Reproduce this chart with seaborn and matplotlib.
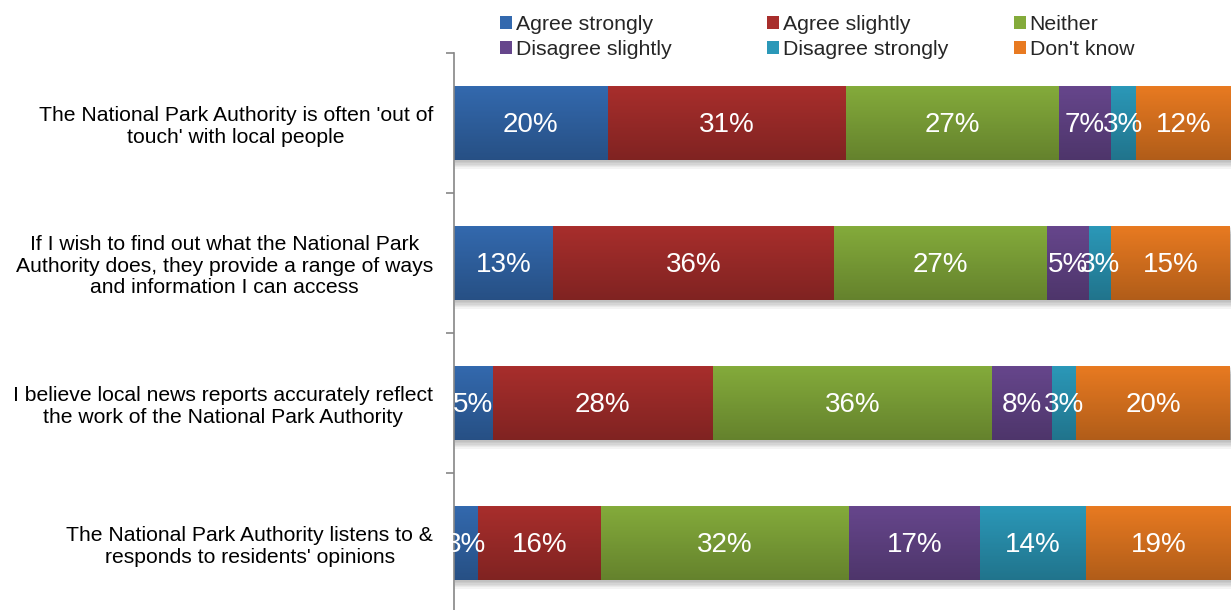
import numpy as np
import pandas as pd
import matplotlib
matplotlib.use("Agg")
import matplotlib.pyplot as plt
import seaborn as sns
from matplotlib.patches import Patch
from matplotlib.ticker import FixedLocator
import matplotlib.patheffects as pe
import matplotlib.transforms as mtransforms

categories = [
    "The National Park Authority is often 'out of\ntouch' with local people",
    "If I wish to find out what the National Park\nAuthority does, they provide a range of ways\nand information I can access",
    "I believe local news reports accurately reflect\nthe work of the National Park Authority",
    "The National Park Authority listens to &\nresponds to residents' opinions",
]
series_names = ["Agree strongly", "Agree slightly", "Neither",
                "Disagree slightly", "Disagree strongly", "Don't know"]
agree_strongly = [19.8, 12.7, 5.0, 3.1]
agree_slightly = [30.6, 36.2, 28.3, 15.8]
neither = [27.4, 27.4, 35.9, 31.9]
disagree_slightly = [6.7, 5.4, 7.7, 16.9]
disagree_strongly = [3.3, 2.8, 3.2, 13.6]
dont_know = [12.2, 15.4, 19.8, 18.7]
series_values = [agree_strongly, agree_slightly, neither,
                 disagree_slightly, disagree_strongly, dont_know]
colors = ["#3369AE", "#A82E2C", "#84AB3B", "#66468C", "#2B98B8", "#E87A21"]

sns.set_style("white")
plt.rcParams["font.family"] = ["Liberation Sans", "DejaVu Sans"]

W, H = 1231, 610
fig = plt.figure(figsize=(W / 100, H / 100), dpi=100)
ax = fig.add_axes([454 / W, -3 / H, 777 / W, 560 / H])

vals = np.array(series_values)
cum = np.cumsum(vals, axis=0)
df = pd.DataFrame({"category": categories})

# draw layers from the widest cumulative to the narrowest
first_layer = None
for i in range(len(series_names) - 1, -1, -1):
    df["value"] = cum[i]
    n_before = len(ax.patches)
    sns.barplot(data=df, y="category", x="value", orient="h", color=colors[i],
                saturation=1, width=0.535, ax=ax, errorbar=None, linewidth=0)
    if first_layer is None:
        first_layer = ax.patches[n_before:]

# soft shadow under the full bars
shadow = [pe.SimplePatchShadow(offset=(0.5, -k), alpha=0.045, shadow_rgbFace="black")
          for k in range(1, 7)]
for p in first_layer:
    p.set_path_effects(shadow + [pe.Normal()])

# vertical shading overlay on each bar
grad = np.linspace(0, 1, 64).reshape(-1, 1)
rgba = np.zeros((64, 1, 4))
rgba[..., 3] = grad * 0.24
for p in first_layer:
    bb = p.get_bbox()
    ax.imshow(rgba, extent=(bb.x0, bb.x1, bb.y1, bb.y0), aspect="auto",
              interpolation="bilinear", zorder=p.get_zorder() + 0.5)

# value labels
lab_tr = ax.transData + mtransforms.ScaledTranslation(0, -2 / 100, fig.dpi_scale_trans)
for j in range(len(categories)):
    for i in range(len(series_names)):
        left = cum[i][j] - vals[i][j]
        ax.text(left + vals[i][j] / 2, j, f"{vals[i][j]:.0f}%", ha="center", va="center",
                color="white", fontsize=20, zorder=10, transform=lab_tr)

ax.set_xlim(0, 100)
ax.set_ylim(3.5, -0.5)
ax.set_xlabel("")
ax.set_ylabel("")
ax.set_xticks([])
for s in ["top", "right", "bottom"]:
    ax.spines[s].set_visible(False)
ax.spines["left"].set_color("#868686")
ax.spines["left"].set_linewidth(1.2)
ax.tick_params(axis="y", which="major", length=0, pad=15, labelsize=15.2, labelcolor="black")
ax.yaxis.set_minor_locator(FixedLocator([-0.5, 0.5, 1.5, 2.5, 3.5]))
ax.tick_params(axis="y", which="minor", length=6, width=1.2, color="#868686", direction="out", left=True)
for lab in ax.get_yticklabels():
    lab.set_multialignment("center")
    lab.set_linespacing(1.17)

# legend: three columns, two rows
handles = [Patch(facecolor=c, edgecolor="none") for c in colors]
col_x = [500, 767, 1014]
for c in range(3):
    idx = [c, c + 3]
    leg = fig.legend([handles[k] for k in idx], [series_names[k] for k in idx],
                     ncol=1, loc="upper left", bbox_to_anchor=(col_x[c] / W, 1 - 15 / H),
                     frameon=False, fontsize=15.3, handlelength=0.58, handleheight=0.58,
                     handletextpad=0.15, labelspacing=0.28, borderaxespad=0, borderpad=0)

fig.savefig("out.png", dpi=100)
